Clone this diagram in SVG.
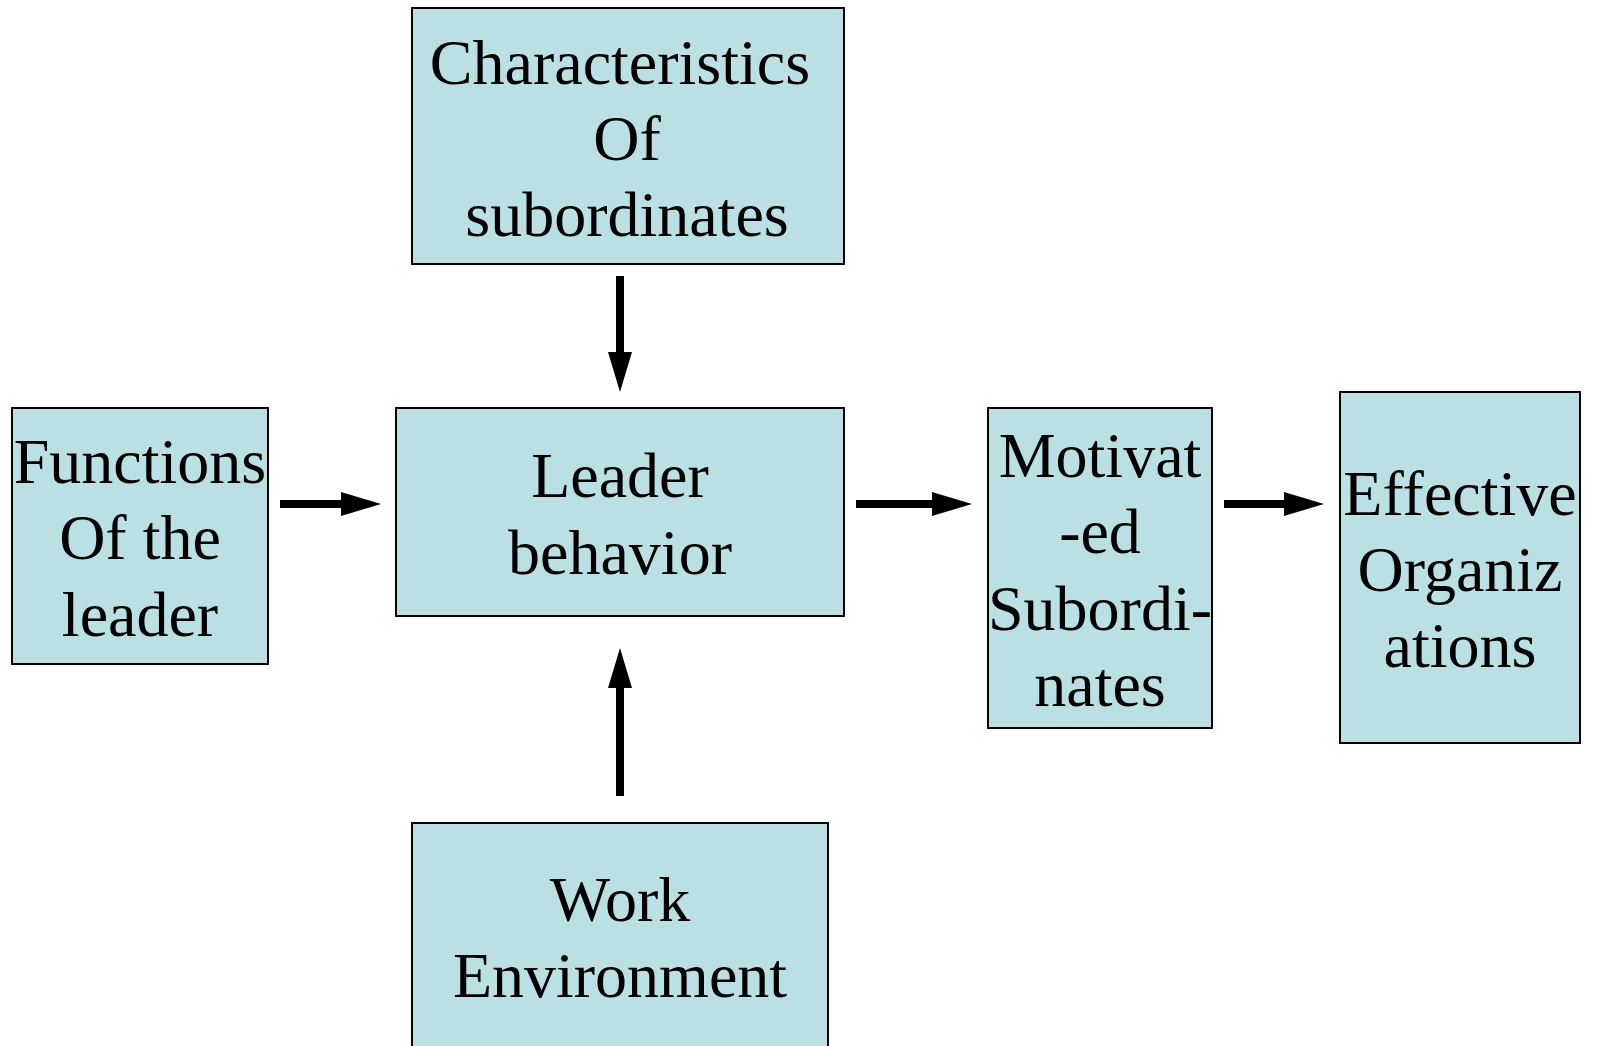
<svg xmlns="http://www.w3.org/2000/svg" width="1598" height="1046" viewBox="0 0 1598 1046">
<defs>
<style>
.box{fill:#BBE0E3;stroke:#000;stroke-width:2}
.t{font-family:"Liberation Serif","Times New Roman",serif;font-size:64px;fill:#000;text-anchor:middle}
.c{stroke:#000;stroke-width:8;fill:none}
</style>
<marker id="ah" markerUnits="userSpaceOnUse" viewBox="0 0 40 24" markerWidth="40" markerHeight="24" refX="0" refY="12" orient="auto">
<path d="M0,0 L40,12 L0,24 Z" fill="#000"/>
</marker>
</defs>
<rect width="1598" height="1046" fill="#fff"/>
<g id="connectors">
<line class="c" x1="620" y1="276" x2="620" y2="352" marker-end="url(#ah)"/>
<line class="c" x1="620" y1="796" x2="620" y2="688" marker-end="url(#ah)"/>
<line class="c" x1="280" y1="504" x2="341" y2="504" marker-end="url(#ah)"/>
<line class="c" x1="856" y1="504" x2="932" y2="504" marker-end="url(#ah)"/>
<line class="c" x1="1224" y1="504" x2="1284" y2="504" marker-end="url(#ah)"/>
</g>
<g id="characteristics">
<rect class="box" x="412" y="8" width="432" height="256"/>
<text class="t" x="620" y="84">Characteristics</text>
<text class="t" x="627" y="160">Of</text>
<text class="t" x="627" y="236">subordinates</text>
</g>
<g id="functions">
<rect class="box" x="12" y="408" width="256" height="256"/>
<text class="t" x="140" y="483">Functions</text>
<text class="t" x="140" y="559">Of the</text>
<text class="t" x="140" y="636">leader</text>
</g>
<g id="leader">
<rect class="box" x="396" y="408" width="448" height="208"/>
<text class="t" x="620" y="497">Leader</text>
<text class="t" x="620" y="574">behavior</text>
</g>
<g id="motivated">
<rect class="box" x="988" y="408" width="224" height="320"/>
<text class="t" x="1100" y="477">Motivat</text>
<text class="t" x="1100" y="553">-ed</text>
<text class="t" x="1100" y="630">Subordi-</text>
<text class="t" x="1100" y="706">nates</text>
</g>
<g id="effective">
<rect class="box" x="1340" y="392" width="240" height="351"/>
<text class="t" x="1460" y="515">Effective</text>
<text class="t" x="1460" y="591">Organiz</text>
<text class="t" x="1460" y="667">ations</text>
</g>
<g id="work">
<rect class="box" x="412" y="823" width="416" height="240"/>
<text class="t" x="620" y="921">Work</text>
<text class="t" x="620" y="997">Environment</text>
</g>
</svg>
